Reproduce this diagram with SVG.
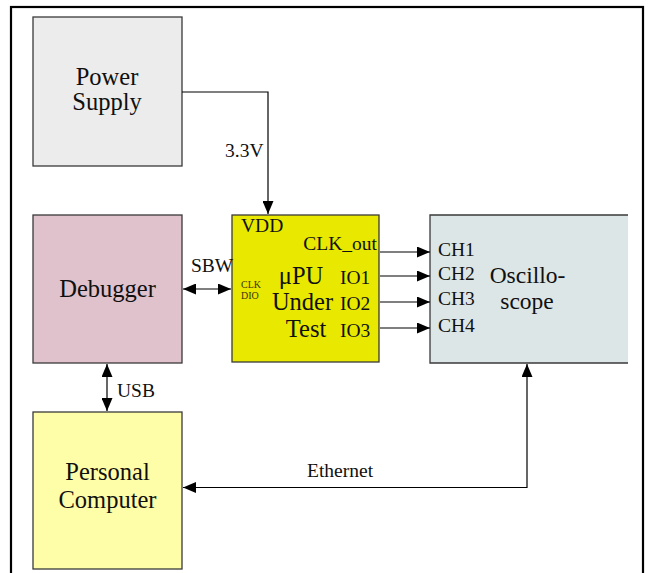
<svg xmlns="http://www.w3.org/2000/svg" width="648" height="573" viewBox="0 0 648 573">
  <style>
    text { font-family: "Liberation Serif", Tinos, "Times New Roman", "DejaVu Serif", serif; }
    .box { stroke: #3a3a3a; stroke-width: 1.3; }
    .big { font-size: 24.5px; fill: #101010; text-anchor: middle; }
    .lbl { font-size: 19.5px; fill: #101010; }
    .tiny { font-size: 10px; fill: #3a3300; }
    .wire { fill: none; stroke: #000; stroke-width: 1.2; }
  </style>
  <defs>
    <marker id="arrow" viewBox="0 0 13 11" refX="13" refY="5.5" markerWidth="13" markerHeight="11" markerUnits="userSpaceOnUse" orient="auto-start-reverse">
      <path d="M0,0 L13,5.5 L0,11 Z" fill="#000"/>
    </marker>
  </defs>

  <!-- frame -->
  <rect x="11" y="7" width="632" height="590" fill="#ffffff" stroke="#000" stroke-width="2.2"/>

  <g id="power-supply">
    <rect class="box" x="33" y="17" width="149" height="149" fill="#ececec"/>
    <text class="big" x="107" y="85">Power</text>
    <text class="big" x="107" y="110">Supply</text>
  </g>

  <g id="debugger">
    <rect class="box" x="33" y="215" width="149" height="148" fill="#dfc2cb"/>
    <text class="big" x="107.5" y="297">Debugger</text>
  </g>

  <g id="personal-computer">
    <rect class="box" x="33" y="412" width="149" height="157" fill="#fffea8"/>
    <text class="big" x="107.5" y="480">Personal</text>
    <text class="big" x="107.5" y="508">Computer</text>
  </g>

  <g id="mpu">
    <rect class="box" x="232" y="215" width="147" height="147" fill="#e8e800"/>
    <text class="lbl" x="241" y="232">VDD</text>
    <text class="lbl" x="377" y="250" text-anchor="end">CLK_out</text>
    <text class="tiny" x="241" y="288">CLK</text>
    <text class="tiny" x="241" y="299">DIO</text>
    <text class="big" x="301" y="284">μPU</text>
    <text class="big" x="302.5" y="310">Under</text>
    <text class="big" x="306" y="337">Test</text>
    <text class="lbl" x="340" y="284">IO1</text>
    <text class="lbl" x="340" y="310">IO2</text>
    <text class="lbl" x="340" y="337">IO3</text>
  </g>

  <g id="oscilloscope">
    <rect x="430" y="215" width="198" height="148" fill="#dde6e6"/>
    <path class="box" d="M628,215 H430 V363 H628" fill="none"/>
    <text class="lbl" x="438" y="256">CH1</text>
    <text class="lbl" x="438" y="280">CH2</text>
    <text class="lbl" x="438" y="305">CH3</text>
    <text class="lbl" x="438" y="332">CH4</text>
    <text class="big" x="527.5" y="283" style="font-size:23.5px">Oscillo-</text>
    <text class="big" x="527" y="309" style="font-size:23.5px">scope</text>
  </g>

  <g id="connectors">
    <path class="wire" d="M182,92 H268 V214" marker-end="url(#arrow)"/>
    <path class="wire" d="M183,289 H231" marker-start="url(#arrow)" marker-end="url(#arrow)"/>
    <path class="wire" d="M107,364 V411" marker-start="url(#arrow)" marker-end="url(#arrow)"/>
    <path class="wire" d="M380,252 H430" marker-end="url(#arrow)"/>
    <path class="wire" d="M380,276 H430" marker-end="url(#arrow)"/>
    <path class="wire" d="M380,302 H430" marker-end="url(#arrow)"/>
    <path class="wire" d="M380,328 H430" marker-end="url(#arrow)"/>
    <path class="wire" d="M527,364 V487.5 H183" marker-start="url(#arrow)" marker-end="url(#arrow)"/>
    <text class="lbl" x="225" y="157">3.3V</text>
    <text class="lbl" x="191" y="272">SBW</text>
    <text class="lbl" x="117" y="397">USB</text>
    <text class="lbl" x="307" y="477">Ethernet</text>
  </g>
</svg>
